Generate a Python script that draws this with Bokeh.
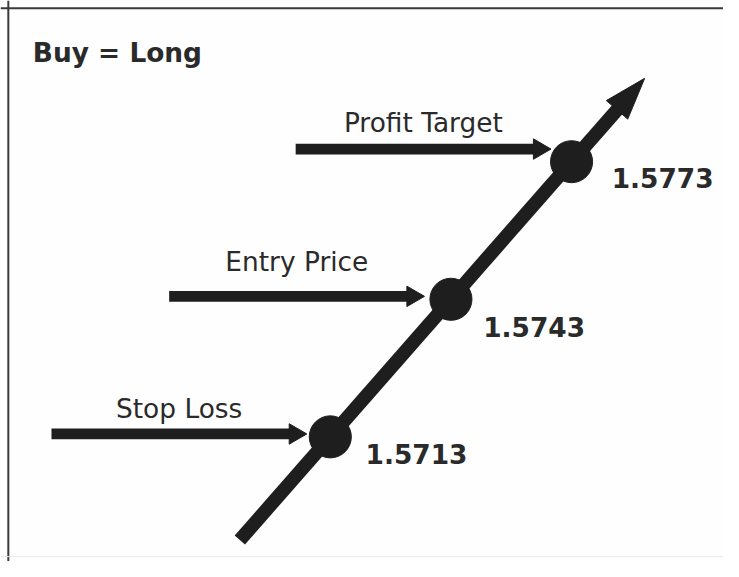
import numpy as np
from bokeh.plotting import figure
from bokeh.models import Range1d, Span
from bokeh.embed import file_html
from bokeh.resources import INLINE
from bokeh.core.properties import value

# ---- data ----
title_text = "Buy = Long"
levels = ["Stop Loss", "Entry Price", "Profit Target"]
prices = [1.5713, 1.5743, 1.5773]
price_labels = ["1.5713", "1.5743", "1.5773"]
steps = [1, 2, 3]

# ---- layout: design space is 739 x 577, drawn into a 723 x 561 figure ----
W, H = 723, 561
REF_W, REF_H = 739, 577
S = W / REF_W                    # screen scale for widths / fonts
PX_STEP = 123.3                  # design px per step
PX_PRICE = 141.5 / 0.003         # design px per price unit
X0 = 337.1                       # design x of first step
Y0 = 448.8                       # design y (from top) of first price

x_start = steps[0] - X0 / PX_STEP
x_end = x_start + REF_W / PX_STEP
y_end = prices[0] + Y0 / PX_PRICE
y_start = y_end - REF_H / PX_PRICE

def dx(px):
    return px / PX_STEP

def dy(px):  # design px measured downward
    return -px / PX_PRICE

INK = "#1e1e1e"
TXT = "#2a2a2a"
FONT = "DejaVu Sans"
FS = f"{27 * S:.1f}px"

p = figure(width=W, height=H, x_range=Range1d(x_start, x_end),
           y_range=Range1d(y_start, y_end), output_backend="svg",
           toolbar_location=None, min_border=0, outline_line_color=None,
           background_fill_color="#fefefe", border_fill_color="#ffffff")
p.xaxis.visible = False
p.yaxis.visible = False
p.grid.visible = False

# frame lines
p.add_layout(Span(location=x_start + dx(8), dimension="height", line_width=2, line_color="#3a3a3a"))
p.add_layout(Span(location=y_end + dy(8), dimension="width", line_width=2, line_color="#3a3a3a"))
p.add_layout(Span(location=y_end + dy(572), dimension="width", line_width=1, line_color="#e8e8e8"))

# main trend line through the price levels
slope, icpt = np.polyfit(steps, prices, 1)
s_lo = steps[0] - 0.75
s_hi = steps[-1] + 0.606
tip_x, tip_y = s_hi, icpt + slope * s_hi
start_x, start_y = s_lo, icpt + slope * s_lo

ux, uy = PX_STEP, -slope * PX_PRICE
n = np.hypot(ux, uy)
ux, uy = ux / n, uy / n
nx, ny = -uy, ux

head_len, head_w = 43, 29
shaft_end_x = tip_x + dx(-38 * ux)
shaft_end_y = tip_y + dy(-38 * uy)
p.line([start_x, shaft_end_x], [start_y, shaft_end_y], line_width=14 * S,
       line_color=INK, line_cap="butt")
bx, by = -head_len * ux, -head_len * uy
p.patch([tip_x, tip_x + dx(bx + head_w / 2 * nx), tip_x + dx(bx - head_w / 2 * nx)],
        [tip_y, tip_y + dy(by + head_w / 2 * ny), tip_y + dy(by - head_w / 2 * ny)],
        fill_color=INK, line_color=INK, line_width=1)

# horizontal pointer arrows
tip_off = [-24, -27, -21]
arrow_dy = [-3, -3, -13]
arrow_len = 261
ah_len, ah_w = 18, 21
label_dy = [-26, -36, -27.5]
for i in range(3):
    ax_tip = steps[i] + dx(tip_off[i])
    ay = prices[i] + dy(arrow_dy[i])
    p.line([ax_tip + dx(-arrow_len), ax_tip + dx(-ah_len + 3)], [ay, ay],
           line_width=11 * S, line_color=INK, line_cap="butt")
    p.patch([ax_tip, ax_tip + dx(-ah_len), ax_tip + dx(-ah_len)],
            [ay, ay + dy(-ah_w / 2), ay + dy(ah_w / 2)],
            fill_color=INK, line_color=INK, line_width=1)
    p.text(x=[ax_tip + dx(-arrow_len / 2)], y=[ay + dy(label_dy[i])], text=[levels[i]],
           text_font=value(FONT), text_font_size=FS, text_color=TXT,
           text_align="center", text_baseline="alphabetic")

# dots
p.scatter(steps, prices, marker="circle", size=43 * S, fill_color=INK, line_color=INK)

# price labels
num_dx = [36, 33, 41]
num_dy = [18, 29, 17]
p.text(x=[s + dx(o) for s, o in zip(steps, num_dx)],
       y=[v + dy(o) for v, o in zip(prices, num_dy)], text=price_labels,
       text_font=value(FONT), text_font_size=FS, text_font_style="bold",
       text_color=TXT, text_align="left", text_baseline="alphabetic")

# title
p.text(x=[x_start + dx(33)], y=[y_end + dy(53)], text=[title_text],
       text_font=value(FONT), text_font_size=FS, text_font_style="bold",
       text_color=TXT, text_align="left", text_baseline="alphabetic")

open("out.html", "w").write(file_html(p, INLINE))
